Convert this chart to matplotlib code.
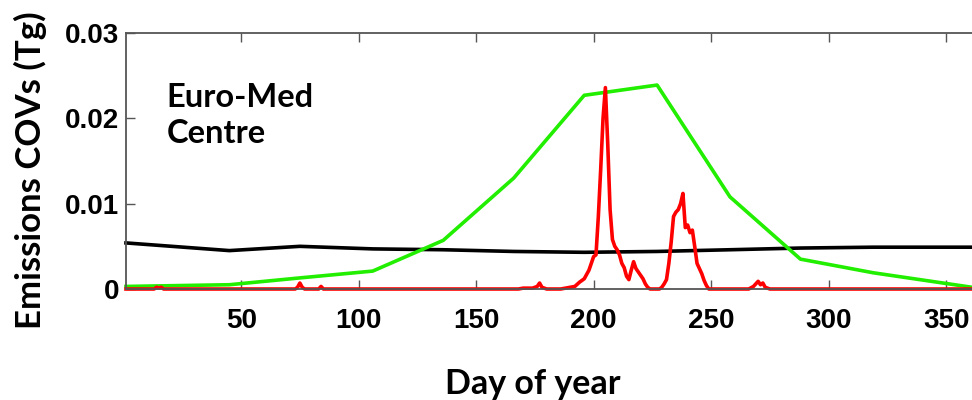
import numpy as np
from matplotlib import pyplot as plt

# monthly series (day of year, Tg)
black_day = [1, 45, 75, 106, 136, 166, 196, 227, 258, 288, 319, 361]
black_val = [0.0054, 0.0045, 0.0050, 0.0047, 0.0046, 0.0044, 0.0043, 0.0044, 0.0046, 0.0048, 0.0049, 0.0049]

green_day = [1, 45, 75, 106, 136, 166, 196, 227, 258, 288, 319, 361]
green_val = [0.0003, 0.0005, 0.0013, 0.0021, 0.0057, 0.0130, 0.0227, 0.0239, 0.0108, 0.0035, 0.0019, 0.0002]

# daily series (zeros between the bumps)
red_day = [1, 13, 14, 15, 16, 17, 73, 74, 75, 76, 77, 83, 84, 85, 168, 170, 174, 176, 177, 178,
           180, 186, 188, 190, 192, 194, 196, 198, 199, 200, 201, 202, 203, 204, 205, 206, 207,
           208, 209, 210, 211, 212, 213, 214, 215, 216, 217, 218, 219, 220, 221, 222, 223, 224,
           228, 229, 230, 231, 232, 233, 234, 235, 236, 237, 238, 239, 240, 241, 242, 243, 244,
           245, 246, 247, 248, 249, 266, 268, 269, 270, 271, 272, 273, 275, 361]
red_val = [0, 0, 0.0002, 0.0001, 0.0002, 0, 0, 0.0002, 0.0007, 0.0002, 0, 0, 0.0003, 0, 0, 0.0001, 0.0001, 0.0003, 0.0007, 0.0002,
           0, 0, 0.0001, 0.0002, 0.0003, 0.0008, 0.0012, 0.0022, 0.0030, 0.0038, 0.0040, 0.0085, 0.0140, 0.0200, 0.0236, 0.0170, 0.0093,
           0.0058, 0.0050, 0.0046, 0.0040, 0.0030, 0.0025, 0.0015, 0.0011, 0.0022, 0.0032, 0.0024, 0.0020, 0.0016, 0.0012, 0.0006, 0.0002, 0,
           0, 0.0002, 0.0006, 0.0011, 0.0030, 0.0055, 0.0085, 0.0090, 0.0093, 0.0100, 0.0112, 0.0072, 0.0075, 0.0066, 0.0069, 0.0050, 0.0030,
           0.0024, 0.0018, 0.0010, 0.0004, 0, 0, 0.0003, 0.0006, 0.0009, 0.0005, 0.0007, 0.0002, 0, 0]

xticks = [50, 100, 150, 200, 250, 300, 350]
yticks = [0, 0.01, 0.02, 0.03]
ytick_labels = ["0", "0.01", "0.02", "0.03"]

fig = plt.figure(figsize=(9.72, 4.0), dpi=100)
ax = fig.add_axes([0.1296, 0.2775, 0.8704, 0.64])

ax.plot(black_day, black_val, color="black", linewidth=2.6, clip_on=False)
ax.plot(green_day, green_val, color="#22ee00", linewidth=2.6, clip_on=False)
ax.plot(red_day, red_val, color="#ff0000", linewidth=2.6, clip_on=False)

ax.set_xlim(1, 361)
ax.set_ylim(0, 0.03)
ax.set_xticks(xticks)
ax.set_yticks(yticks)
ax.set_yticklabels(ytick_labels)

for lab in ax.get_xticklabels() + ax.get_yticklabels():
    lab.set_fontfamily("Liberation Sans")
    lab.set_fontweight("bold")
    lab.set_fontsize(20)

ax.tick_params(axis="both", direction="in", length=6.5, width=1.0, color="#555555")
ax.tick_params(axis="x", top=True, pad=14)
ax.tick_params(axis="y", pad=5)
ax.spines["right"].set_visible(False)
for s in ["left", "top", "bottom"]:
    ax.spines[s].set_color("#555555")
    ax.spines[s].set_linewidth(1.3)

ax.set_xlabel("Day of year", family="Lato", weight="bold", fontsize=24.5)
ax.set_ylabel("Emissions COVs (Tg)", family="Lato", weight="bold", fontsize=25)
ax.xaxis.set_label_coords(0.481, -0.31)
ax.yaxis.set_label_coords(-0.093, 0.465)

ax.text(0.048, 0.805, "Euro-Med\nCentre", transform=ax.transAxes, family="Lato",
        weight="bold", fontsize=23.5, va="top", ha="left", linespacing=1.28)

fig.savefig("out.png", dpi=100)
